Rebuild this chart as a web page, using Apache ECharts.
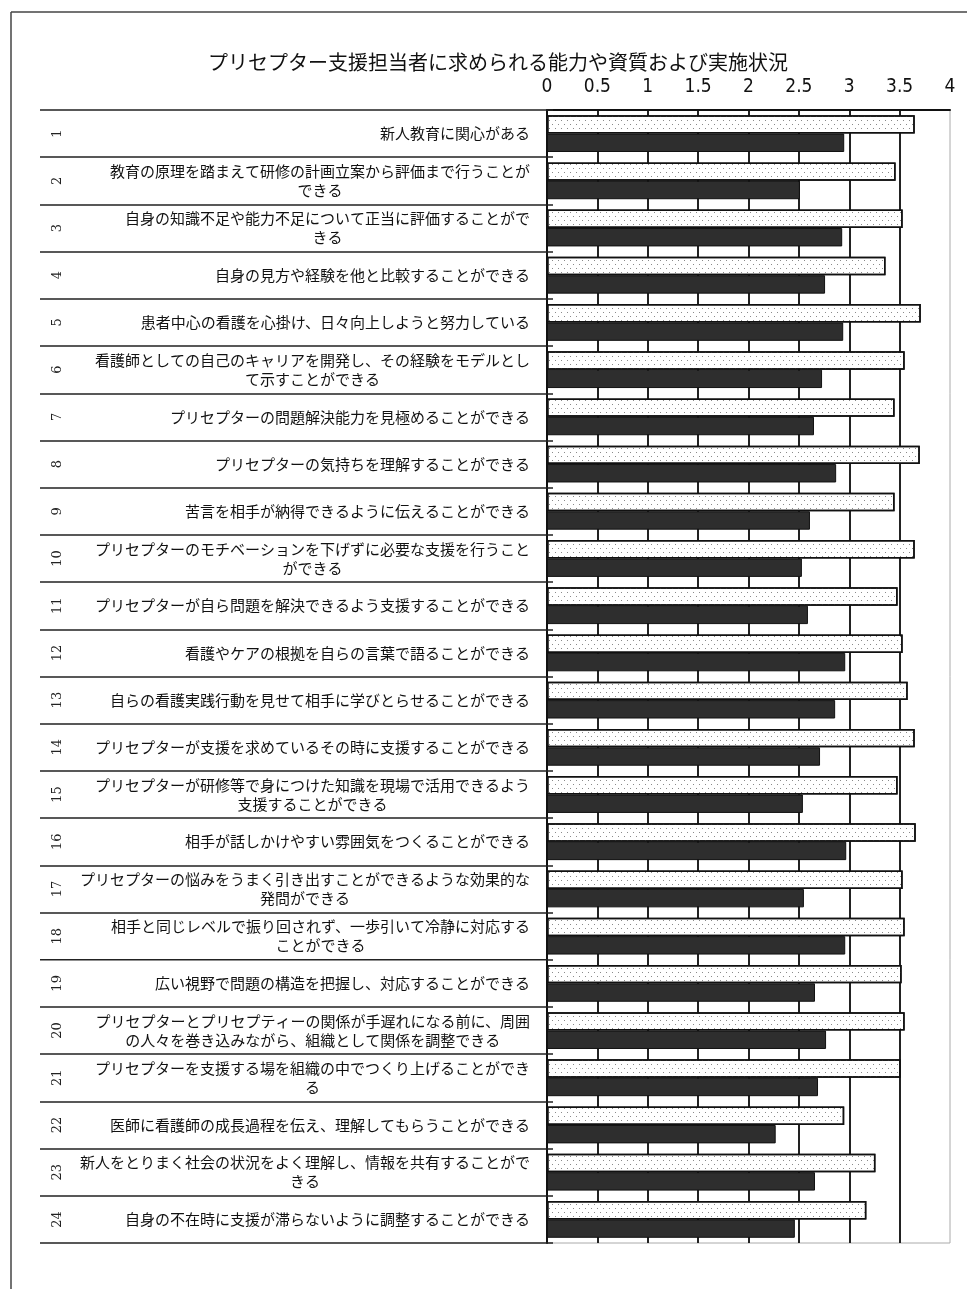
<!DOCTYPE html>
<html>
<head>
<meta charset="utf-8">
<script src="https://cdn.jsdelivr.net/npm/echarts@6/dist/echarts.min.js"></script>
<style>
html,body{margin:0;padding:0;background:#fff;}
#chart{width:967px;height:1289px;}
</style>
</head>
<body>
<div id="chart"></div>
<script>
const titleText = 'プリセプター支援担当者に求められる能力や資質および実施状況';
const itemNumbers = ['1','2','3','4','5','6','7','8','9','10','11','12','13','14','15','16','17','18','19','20','21','22','23','24'];
const categories = [
  '新人教育に関心がある',
  '教育の原理を踏まえて研修の計画立案から評価まで行うことが\nできる',
  '自身の知識不足や能力不足について正当に評価することがで\nきる',
  '自身の見方や経験を他と比較することができる',
  '患者中心の看護を心掛け、日々向上しようと努力している',
  '看護師としての自己のキャリアを開発し、その経験をモデルとし\nて示すことができる',
  'プリセプターの問題解決能力を見極めることができる',
  'プリセプターの気持ちを理解することができる',
  '苦言を相手が納得できるように伝えることができる',
  'プリセプターのモチベーションを下げずに必要な支援を行うこと\nができる',
  'プリセプターが自ら問題を解決できるよう支援することができる',
  '看護やケアの根拠を自らの言葉で語ることができる',
  '自らの看護実践行動を見せて相手に学びとらせることができる',
  'プリセプターが支援を求めているその時に支援することができる',
  'プリセプターが研修等で身につけた知識を現場で活用できるよう\n支援することができる',
  '相手が話しかけやすい雰囲気をつくることができる',
  'プリセプターの悩みをうまく引き出すことができるような効果的な\n発問ができる',
  '相手と同じレベルで振り回されず、一歩引いて冷静に対応する\nことができる',
  '広い視野で問題の構造を把握し、対応することができる',
  'プリセプターとプリセプティーの関係が手遅れになる前に、周囲\nの人々を巻き込みながら、組織として関係を調整できる',
  'プリセプターを支援する場を組織の中でつくり上げることができ\nる',
  '医師に看護師の成長過程を伝え、理解してもらうことができる',
  '新人をとりまく社会の状況をよく理解し、情報を共有することがで\nきる',
  '自身の不在時に支援が滞らないように調整することができる'
];
const requiredValues = [3.65, 3.46, 3.53, 3.36, 3.71, 3.55, 3.45, 3.70, 3.45, 3.65, 3.48, 3.53, 3.58, 3.65, 3.48, 3.66, 3.53, 3.55, 3.52, 3.55, 3.51, 2.95, 3.26, 3.17];
const practiceValues = [2.95, 2.51, 2.93, 2.76, 2.94, 2.73, 2.65, 2.87, 2.61, 2.53, 2.59, 2.96, 2.86, 2.71, 2.54, 2.97, 2.55, 2.96, 2.66, 2.77, 2.69, 2.27, 2.66, 2.46];
const seriesNames = ['求められる能力や資質', '実施状況'];

const chart = echarts.init(document.getElementById('chart'), null, {renderer: 'canvas'});
const jp = '"Noto Sans CJK JP", "Noto Sans", sans-serif';
chart.setOption({
  animation: false,
  backgroundColor: '#fff',
  title: {
    text: titleText,
    left: 203,
    top: 47,
    textStyle: {fontFamily: jp, fontSize: 20, fontWeight: 'normal', color: '#111'}
  },
  graphic: [
    {type: 'line', shape: {x1: 11, y1: 12, x2: 967, y2: 12}, style: {stroke: '#444', lineWidth: 1.5}},
    {type: 'line', shape: {x1: 11, y1: 12, x2: 11, y2: 1289}, style: {stroke: '#444', lineWidth: 1.5}}
  ],
  grid: {left: 547, right: 17, top: 110, bottom: 46, show: true, borderColor: '#aaa', borderWidth: 1},
  xAxis: {
    type: 'value', position: 'top', min: 0, max: 4, interval: 0.5,
    axisLine: {show: true, lineStyle: {color: '#111', width: 2}},
    axisTick: {show: false},
    axisLabel: {margin: 13, fontSize: 19, color: '#111', fontFamily: '"Liberation Sans Narrow", "DejaVu Sans Condensed", "Liberation Sans", sans-serif'},
    splitLine: {show: true, showMaxLine: false, lineStyle: {color: '#222', width: 2}}
  },
  yAxis: [
    {
      type: 'category', data: categories, inverse: true, position: 'left',
      axisLine: {show: true, lineStyle: {color: '#111', width: 2}},
      axisTick: {show: true, length: 507, lineStyle: {color: '#222', width: 1.5}},
      axisLabel: {
        interval: 0, margin: 17, align: 'right',
        formatter: function (v) { return '{c|' + v + '}'; },
        rich: {c: {align: 'center', fontFamily: jp, fontSize: 15, lineHeight: 19, color: '#111'}}
      }
    },
    {
      type: 'category', data: itemNumbers, inverse: true, position: 'left', offset: 483,
      axisLine: {show: false}, axisTick: {show: false},
      axisLabel: {interval: 0, rotate: 90, margin: 0, fontSize: 13, color: '#222', fontFamily: '"DejaVu Serif", serif'}
    },
    {
      type: 'category', data: itemNumbers, inverse: true, position: 'left',
      axisLine: {show: false},
      axisTick: {show: true, inside: true, length: 6, lineStyle: {color: '#222', width: 1.5}},
      axisLabel: {show: false}
    }
  ],
  series: [
    {
      name: seriesNames[0], type: 'bar', data: requiredValues,
      barGap: '0%', barCategoryGap: '22%',
      itemStyle: {
        color: '#fff', borderColor: '#111', borderWidth: 1.5,
        decal: {symbol: 'rect', symbolSize: 1, color: '#8a8a8a', dashArrayX: [[1, 5], [0, 3, 1, 2]], dashArrayY: [1, 3]}
      }
    },
    {
      name: seriesNames[1], type: 'bar', data: practiceValues,
      barGap: '0%', barCategoryGap: '22%',
      itemStyle: {color: '#2e2e2e', borderColor: '#111', borderWidth: 1}
    }
  ]
});
</script>
</body>
</html>
